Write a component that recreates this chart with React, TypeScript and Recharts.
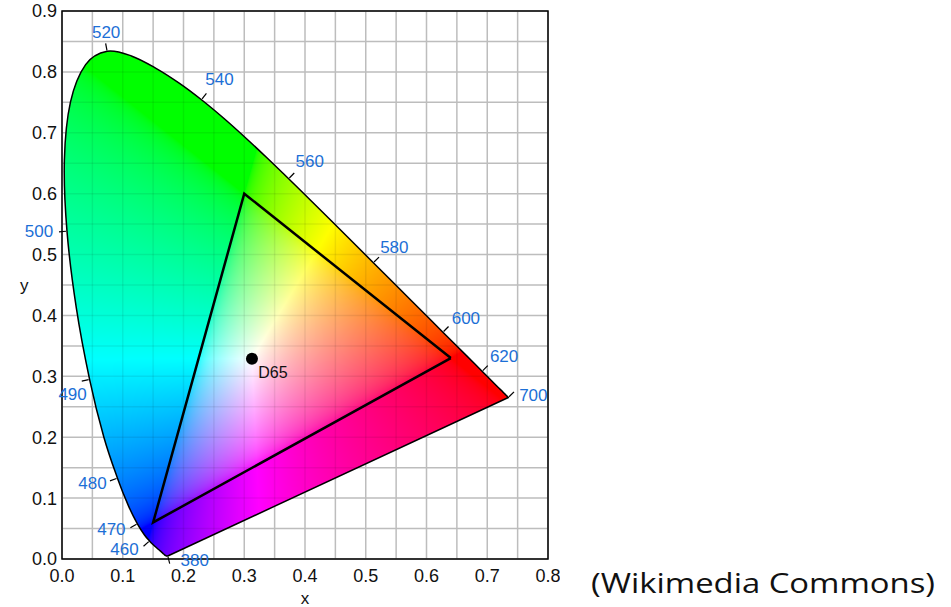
import React from "react"
import { ScatterChart, Scatter, XAxis, YAxis, CartesianGrid, ReferenceArea } from "recharts"

// CIE 1931 spectral locus, 5 nm steps
const locusNm = [
  380, 385, 390, 395, 400, 405, 410, 415, 420, 425, 430, 435, 440, 445, 450, 455, 460, 465, 470, 475,
  480, 485, 490, 495, 500, 505, 510, 515, 520, 525, 530, 535, 540, 545, 550, 555, 560, 565, 570, 575,
  580, 585, 590, 595, 600, 605, 610, 615, 620, 625, 630, 635, 640, 645, 650, 655, 660, 665, 670, 675,
  680, 685, 690, 695, 700,
]
const locusX = [
  0.1741, 0.174, 0.1738, 0.1736, 0.1733, 0.173, 0.1726, 0.1721, 0.1714, 0.1703, 0.1689, 0.1669, 0.1644,
  0.1611, 0.1566, 0.151, 0.144, 0.1355, 0.1241, 0.1096, 0.0913, 0.0687, 0.0454, 0.0235, 0.0082, 0.0039,
  0.0139, 0.0389, 0.0743, 0.1142, 0.1547, 0.1929, 0.2296, 0.2658, 0.3016, 0.3373, 0.3731, 0.4087, 0.4441,
  0.4788, 0.5125, 0.5448, 0.5752, 0.6029, 0.627, 0.6482, 0.6658, 0.6801, 0.6915, 0.7006, 0.7079, 0.714,
  0.719, 0.723, 0.726, 0.7283, 0.73, 0.7311, 0.732, 0.7327, 0.7334, 0.734, 0.7344, 0.7346, 0.7347,
]
const locusY = [
  0.005, 0.005, 0.0049, 0.0049, 0.0048, 0.0048, 0.0048, 0.0048, 0.0051, 0.0058, 0.0069, 0.0086, 0.0109,
  0.0138, 0.0177, 0.0227, 0.0297, 0.0399, 0.0578, 0.0868, 0.1327, 0.2007, 0.295, 0.4127, 0.5384, 0.6548,
  0.7502, 0.812, 0.8338, 0.8262, 0.8059, 0.7816, 0.7543, 0.7243, 0.6923, 0.6589, 0.6245, 0.5896, 0.5547,
  0.5202, 0.4866, 0.4544, 0.4242, 0.3965, 0.3725, 0.3514, 0.334, 0.3197, 0.3083, 0.2993, 0.292, 0.2859,
  0.2809, 0.277, 0.274, 0.2717, 0.27, 0.2689, 0.268, 0.2673, 0.2666, 0.266, 0.2656, 0.2654, 0.2653,
]

const labelNm = [380, 460, 470, 480, 490, 500, 520, 540, 560, 580, 600, 620, 700]

// sRGB gamut triangle
const primaryX = [0.64, 0.3, 0.15]
const primaryY = [0.33, 0.6, 0.06]

const whiteName = "D65"
const whiteX = 0.3127
const whiteY = 0.329

const xTicks = [0, 0.05, 0.1, 0.15, 0.2, 0.25, 0.3, 0.35, 0.4, 0.45, 0.5, 0.55, 0.6, 0.65, 0.7, 0.75, 0.8]
const yTicks = [0, 0.05, 0.1, 0.15, 0.2, 0.25, 0.3, 0.35, 0.4, 0.45, 0.5, 0.55, 0.6, 0.65, 0.7, 0.75, 0.8, 0.85, 0.9]

// label placement relative to the locus point, in px
const labelOffset: Record<number, [number, number]> = {
  380: [27, 5],
  460: [-25, 9],
  470: [-26, 6],
  480: [-25, 5],
  490: [-17, 15],
  500: [-28, 0],
  520: [-1, -19],
  540: [18, -20],
  560: [21, -17],
  580: [21, -15],
  600: [23, -14],
  620: [22, -15],
  700: [25, -2],
}

const FONT = "'Liberation Sans', Arial, sans-serif"
const LABEL_BLUE = "#1c6fd6"

const locusData = locusNm.map((nm, i) => ({ nm, x: locusX[i], y: locusY[i] }))
const triangleData = [0, 1, 2, 0].map((i) => ({ x: primaryX[i], y: primaryY[i] }))
const whiteData = [{ name: whiteName, x: whiteX, y: whiteY }]
const labelData = labelNm.map((nm) => {
  const i = locusNm.indexOf(nm)
  return { nm, i, x: locusX[i], y: locusY[i] }
})

const fmt = (v: number) => (Math.round(v * 100) % 10 === 0 ? v.toFixed(1) : "")

// chromaticity -> displayable sRGB (clipped, max-normalised)
function chromaColor(x: number, y: number): [number, number, number] {
  const yy = Math.max(y, 0.0005)
  const X = x / yy
  const Y = 1
  const Z = (1 - x - yy) / yy
  let r = 3.2406 * X - 1.5372 * Y - 0.4986 * Z
  let g = -0.9689 * X + 1.8758 * Y + 0.0415 * Z
  let b = 0.0557 * X - 0.204 * Y + 1.057 * Z
  r = Math.max(r, 0)
  g = Math.max(g, 0)
  b = Math.max(b, 0)
  const m = Math.max(r, g, b) || 1
  const gam = (c: number) => {
    c = c / m
    const v = c <= 0.0031308 ? 12.92 * c : 1.055 * Math.pow(c, 1 / 2.4) - 0.055
    return Math.round(Math.min(1, Math.max(0, v)) * 255)
  }
  return [gam(r), gam(g), gam(b)]
}

let fieldCache: { key: string; url: string } | null = null
function colourField(w: number, h: number): string {
  const key = w + "x" + h
  if (fieldCache && fieldCache.key === key) return fieldCache.url
  if (typeof document === "undefined" || w <= 0 || h <= 0) return ""
  const canvas = document.createElement("canvas")
  canvas.width = w
  canvas.height = h
  const ctx = canvas.getContext("2d")
  if (!ctx) return ""
  const img = ctx.createImageData(w, h)
  for (let py = 0; py < h; py++) {
    const dy = 0.9 - ((py + 0.5) / h) * 0.9
    for (let px = 0; px < w; px++) {
      const dx = ((px + 0.5) / w) * 0.8
      const [r, g, b] = chromaColor(dx, dy)
      const k = (py * w + px) * 4
      img.data[k] = r
      img.data[k + 1] = g
      img.data[k + 2] = b
      img.data[k + 3] = 255
    }
  }
  ctx.putImageData(img, 0, 0)
  const url = canvas.toDataURL()
  fieldCache = { key, url }
  return url
}

// smooth path through the locus points, closed by the straight purple line
function smoothClosedPath(pts: { x: number; y: number }[]) {
  const n = pts.length
  let d = `M${pts[0].x},${pts[0].y}`
  for (let i = 0; i < n - 1; i++) {
    const p0 = pts[Math.max(i - 1, 0)]
    const p1 = pts[i]
    const p2 = pts[i + 1]
    const p3 = pts[Math.min(i + 2, n - 1)]
    const c1x = p1.x + (p2.x - p0.x) / 6
    const c1y = p1.y + (p2.y - p0.y) / 6
    const c2x = p2.x - (p3.x - p1.x) / 6
    const c2y = p2.y - (p3.y - p1.y) / 6
    d += `C${c1x},${c1y} ${c2x},${c2y} ${p2.x},${p2.y}`
  }
  return d + "Z"
}

const renderLocus = (props: any) => {
  const pts = props.points as { x: number; y: number }[]
  if (!pts || pts.length < 2) return <g />
  // recover the pixel scale from the library's own points
  const top = locusY.indexOf(Math.max(...locusY))
  const sx = (pts[top].x - pts[0].x) / (locusX[top] - locusX[0])
  const ox = pts[0].x - sx * locusX[0]
  const sy = (pts[top].y - pts[0].y) / (locusY[top] - locusY[0])
  const oy = pts[0].y - sy * locusY[0]
  const left = ox
  const topPx = oy + 0.9 * sy
  const w = Math.round(0.8 * sx)
  const h = Math.round(oy - topPx)
  const url = colourField(w, h)
  const d = smoothClosedPath(pts)
  return (
    <g>
      <defs>
        <clipPath id="locusClip">
          <path d={d} />
        </clipPath>
      </defs>
      <g clipPath="url(#locusClip)">
        {url && <image href={url} x={left} y={topPx} width={0.8 * sx} height={oy - topPx} preserveAspectRatio="none" />}
        {xTicks.map((t) => (
          <line key={"gx" + t} x1={ox + t * sx} x2={ox + t * sx} y1={topPx} y2={oy} stroke="rgba(0,0,0,0.07)" strokeWidth={1.5} />
        ))}
        {yTicks.map((t) => (
          <line key={"gy" + t} x1={left} x2={left + 0.8 * sx} y1={oy + t * sy} y2={oy + t * sy} stroke="rgba(0,0,0,0.07)" strokeWidth={1.5} />
        ))}
      </g>
      <path d={d} fill="none" stroke="#000" strokeWidth={1.5} strokeLinejoin="round" />
    </g>
  )
}

const renderWavelength = (props: any) => {
  const { cx, cy, payload } = props
  const i: number = payload.i
  const a = Math.max(0, i === 0 ? 0 : i - 1)
  const b = Math.min(locusNm.length - 1, i === 0 ? 4 : i + 1)
  let dx = locusX[b] - locusX[a]
  let dy = -(locusY[b] - locusY[a])
  const len = Math.hypot(dx, dy) || 1
  dx /= len
  dy /= len
  const nx = dy
  const ny = -dx
  const off = labelOffset[payload.nm] || [0, 0]
  return (
    <g>
      <line x1={cx + nx * 1} y1={cy + ny * 1} x2={cx + nx * 8} y2={cy + ny * 8} stroke="#000" strokeWidth={1.2} />
      <text
        x={cx + off[0]}
        y={cy + off[1]}
        textAnchor="middle"
        dominantBaseline="central"
        fontSize={17}
        fontFamily={FONT}
        fill={LABEL_BLUE}
      >
        {payload.nm}
      </text>
    </g>
  )
}

const renderWhite = (props: any) => {
  const { cx, cy, payload } = props
  return (
    <g>
      <circle cx={cx} cy={cy} r={6} fill="#000" />
      <text x={cx + 21} y={cy + 14} textAnchor="middle" dominantBaseline="central" fontSize={16} fontFamily={FONT} fill="#111">
        {payload.name}
      </text>
    </g>
  )
}

const noShape = () => <g />

export default function App() {
  return (
    <div style={{ position: "absolute", left: 0, top: 0, width: 951, height: 607, background: "#fff" }}>
      <ScatterChart width={560} height={607} margin={{ top: 11, right: 12, bottom: 18, left: 12 }}>
        <CartesianGrid stroke="#bdbdbd" strokeWidth={1.5} />
        <XAxis
          type="number"
          dataKey="x"
          domain={[0, 0.8]}
          ticks={xTicks}
          tickFormatter={fmt}
          interval={0}
          axisLine={false}
          tickLine={false}
          tickSize={6}
          tickMargin={4}
          height={30}
          tick={{ fontSize: 18, fill: "#111", fontFamily: FONT }}
          label={{ value: "x", position: "bottom", offset: 3, fontSize: 17, fill: "#111", fontFamily: FONT }}
        />
        <YAxis
          type="number"
          dataKey="y"
          domain={[0, 0.9]}
          ticks={yTicks}
          tickFormatter={fmt}
          interval={0}
          axisLine={false}
          tickLine={false}
          tickSize={3}
          tickMargin={2}
          width={50}
          tick={{ fontSize: 18, fill: "#111", fontFamily: FONT }}
          label={{ value: "y", position: "insideLeft", offset: 8, angle: 0, fontSize: 17, fill: "#111", fontFamily: FONT }}
        />
        <Scatter data={locusData} fill="#000" line={renderLocus} shape={noShape} isAnimationActive={false} />
        <Scatter data={triangleData} fill="#000" line={{ stroke: "#000", strokeWidth: 2.5 }} shape={noShape} isAnimationActive={false} />
        <Scatter data={whiteData} fill="#000" shape={renderWhite} isAnimationActive={false} />
        <Scatter data={labelData} fill="#000" shape={renderWavelength} isAnimationActive={false} />
        <ReferenceArea x1={0} x2={0.8} y1={0} y2={0.9} fill="none" stroke="#000" strokeWidth={1.5} fillOpacity={0} />
      </ScatterChart>
      <svg width={951} height={607} style={{ position: "absolute", left: 0, top: 0, pointerEvents: "none" }}>
        <text x={591} y={593} fontSize={28} fontFamily="'Open Sans', 'Noto Sans', sans-serif" fill="#111" textLength={344} lengthAdjust="spacingAndGlyphs">
          (Wikimedia Commons)
        </text>
      </svg>
    </div>
  )
}
